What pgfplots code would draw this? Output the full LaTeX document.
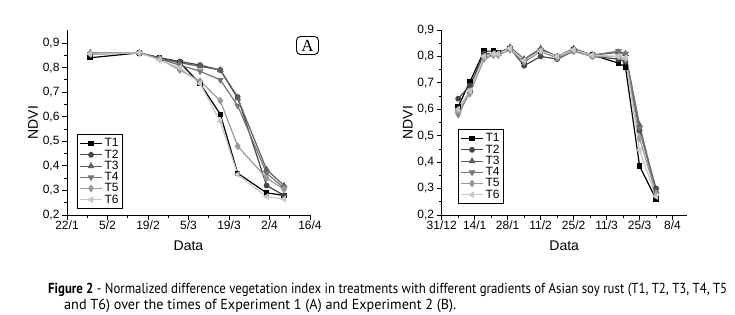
\documentclass[border=0pt]{standalone}
\usepackage{pgfplots}
\pgfplotsset{compat=1.18}
\usepackage{fontspec}
\usepackage{graphicx}
\setmainfont{Liberation Sans}
\newfontfamily\capfont{PT Sans}
\newfontfamily\seriffont{Liberation Serif}
\definecolor{cT1}{gray}{0}
\definecolor{cT2}{gray}{0.28}
\definecolor{cT3}{gray}{0.38}
\definecolor{cT4}{gray}{0.46}
\definecolor{cT5}{gray}{0.6}
\definecolor{cT6}{gray}{0.78}
\pgfplotsset{
  myax/.style={
    scale only axis, height=185pt,
    axis lines=left, axis line style={-, line width=0.9pt},
    tick align=outside, major tick length=5pt, minor tick length=3pt,
    every tick/.style={black, line width=0.8pt},
    ymin=0.2, ytick={0.2,0.3,0.4,0.5,0.6,0.7,0.8,0.9}, minor y tick num=1,
    minor x tick num=1,
    /pgf/number format/assume math mode=true,
    /pgf/number format/use comma, /pgf/number format/fixed, /pgf/number format/fixed zerofill, /pgf/number format/precision=1,
    tick label style={font=\fontsize{12}{13}\selectfont},
    yticklabel style={xshift=1pt},
    xticklabel style={yshift=3pt},
    xlabel=Data, ylabel=NDVI,
    every axis x label/.style={at={([yshift=-31pt]axis description cs:0.5,0)}, anchor=center, font=\fontsize{14}{15}\selectfont},
    every axis y label/.style={at={([xshift=-34pt]axis description cs:0,0.5)}, anchor=center, rotate=90, font=\fontsize{14}{15}\selectfont},
    legend cell align=left,
    legend style={draw=black, line width=0.9pt, font=\fontsize{12}{13}\selectfont, anchor=south west, row sep=-2.6pt, inner sep=2pt},
    legend image code/.code={\draw[mark repeat=2,mark phase=2,##1] plot coordinates {(0pt,0pt) (11pt,0pt) (22pt,0pt)};},
    clip=false,
  },
  s1/.style={cT1, line width=1.2pt, mark=square*, mark size=2.1pt, mark options={solid, fill=cT1}},
  s2/.style={cT2, line width=1.2pt, mark=*, mark size=2.3pt, mark options={solid, fill=cT2}},
  s3/.style={cT3, line width=1.2pt, mark=triangle*, mark size=2.8pt, mark options={solid, fill=cT3}},
  s4/.style={cT4, line width=1.2pt, mark=triangle*, mark size=2.8pt, mark options={solid, fill=cT4, rotate=180}},
  s5/.style={cT5, line width=1.2pt, mark=diamond*, mark size=3pt, mark options={solid, fill=cT5}},
  s6/.style={cT6, line width=1.2pt, mark=triangle*, mark size=2.8pt, mark options={solid, fill=cT6, rotate=90}},
}
\begin{document}
\begin{tikzpicture}
\path[use as bounding box] (0,0) rectangle (735pt,314pt);
% Experiment 1
\begin{axis}[myax, at={(67pt,99pt)}, anchor=south west, width=243pt,
  xmin=22, xmax=106, ymax=0.953,
  xtick={22,36,50,64,78,92,106}, xticklabels={22/1,5/2,19/2,5/3,19/3,2/4,16/4},
  legend style={at={(0.041,0.032)}}]
\addplot[s1] coordinates {(30,0.84) (47,0.86) (54,0.84) (61,0.82) (68,0.735) (75,0.61) (81,0.37) (91,0.29) (97,0.28)};
\addplot[s2] coordinates {(30,0.855) (47,0.86) (54,0.84) (61,0.825) (68,0.81) (75,0.79) (81,0.68) (91,0.32) (97,0.28)};
\addplot[s3] coordinates {(30,0.86) (47,0.86) (54,0.835) (61,0.82) (68,0.805) (75,0.79) (81,0.675) (91,0.385) (97,0.32)};
\addplot[s4] coordinates {(30,0.855) (47,0.86) (54,0.835) (61,0.81) (68,0.785) (75,0.75) (81,0.645) (91,0.37) (97,0.31)};
\addplot[s5] coordinates {(30,0.86) (47,0.86) (54,0.835) (61,0.79) (68,0.745) (75,0.665) (81,0.48) (91,0.35) (97,0.305)};
\addplot[s6] coordinates {(30,0.855) (47,0.86) (54,0.83) (61,0.80) (68,0.735) (75,0.58) (81,0.365) (91,0.275) (97,0.265)};
\legend{T1,T2,T3,T4,T5,T6}
\end{axis}
% Experiment 2
\begin{axis}[myax, at={(441.7pt,99pt)}, anchor=south west, width=245pt,
  xmin=0, xmax=104, ymax=0.9,
  xtick={0,14,28,42,56,70,84,98}, xticklabels={31/12,14/1,28/1,11/2,25/2,11/3,25/3,8/4},
  legend style={at={(0.0665,0.059)}}]
\addplot[s1] coordinates {(7,0.61) (12,0.705) (18,0.82) (22,0.82) (24,0.815) (29,0.83) (35,0.78) (42,0.82) (49,0.795) (56,0.825) (64,0.805) (75,0.775) (78,0.76) (84,0.385) (91,0.26)};
\addplot[s2] coordinates {(7,0.64) (12,0.69) (18,0.81) (22,0.81) (24,0.81) (29,0.83) (35,0.765) (42,0.80) (49,0.79) (56,0.82) (64,0.80) (75,0.79) (78,0.78) (84,0.52) (91,0.30)};
\addplot[s3] coordinates {(7,0.60) (12,0.67) (18,0.80) (22,0.81) (24,0.81) (29,0.835) (35,0.79) (42,0.83) (49,0.80) (56,0.83) (64,0.805) (75,0.815) (78,0.81) (84,0.54) (91,0.29)};
\addplot[s4] coordinates {(7,0.58) (12,0.665) (18,0.80) (22,0.805) (24,0.81) (29,0.83) (35,0.785) (42,0.825) (49,0.80) (56,0.825) (64,0.805) (75,0.82) (78,0.81) (84,0.53) (91,0.28)};
\addplot[s5] coordinates {(7,0.59) (12,0.66) (18,0.79) (22,0.805) (24,0.805) (29,0.825) (35,0.78) (42,0.82) (49,0.795) (56,0.82) (64,0.80) (75,0.80) (78,0.79) (84,0.49) (91,0.28)};
\addplot[s6] coordinates {(7,0.60) (12,0.67) (18,0.80) (22,0.81) (24,0.81) (29,0.83) (35,0.785) (42,0.82) (49,0.80) (56,0.825) (64,0.805) (75,0.80) (78,0.795) (84,0.445) (91,0.27)};
\legend{T1,T2,T3,T4,T5,T6}
\end{axis}
\node[draw, rounded corners=4pt, line width=0.9pt, minimum width=22pt, minimum height=18pt, inner sep=0pt, font=\seriffont\fontsize{17}{17}\selectfont] at (307.5pt,268.5pt) {A};
\node[anchor=base west, inner sep=0pt, text=black, font=\capfont\fontsize{14.5}{15}\selectfont] at (48pt,21pt) {\resizebox{679pt}{\height}{\textbf{Figure 2} - Normalized difference vegetation index in treatments with different gradients of Asian soy rust (T1, T2, T3, T4, T5}};
\node[anchor=base west, inner sep=0pt, text=black, font=\capfont\fontsize{14.5}{15}\selectfont] at (64pt,5pt) {\resizebox{392pt}{\height}{and T6) over the times of Experiment 1 (A) and Experiment 2 (B).}};
\end{tikzpicture}
\end{document}
